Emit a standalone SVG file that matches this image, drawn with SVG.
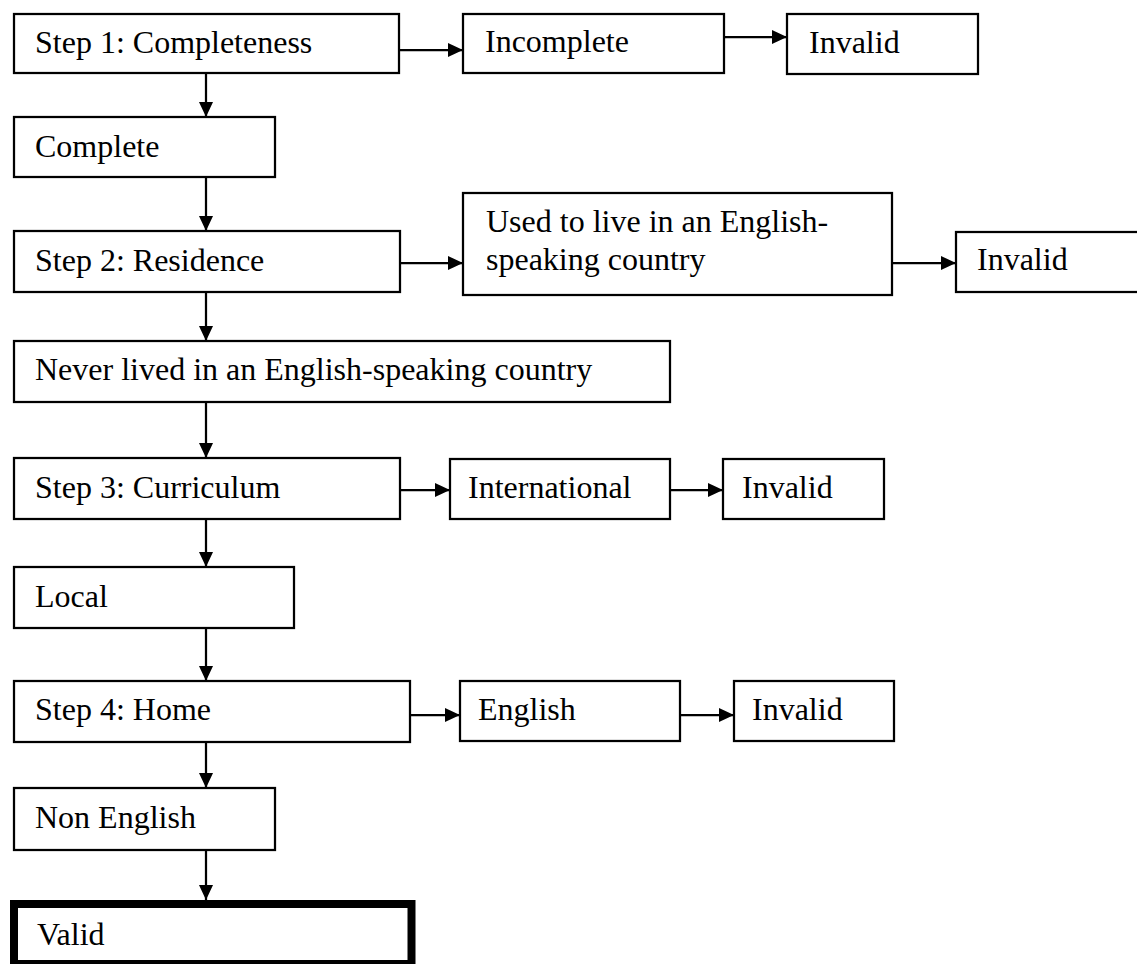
<svg xmlns="http://www.w3.org/2000/svg" width="1137" height="964" viewBox="0 0 1137 964">
  <style>
    .box { fill: #ffffff; stroke: #000000; stroke-width: 2.25; }
    .final { fill: #ffffff; stroke: #000000; stroke-width: 8; }
    .lbl { font-family: "Liberation Serif", "Times New Roman", serif; font-size: 32px; fill: #000000; }
    .link { stroke: #000000; stroke-width: 2.25; fill: none; marker-end: url(#head); }
  </style>
  <defs>
    <marker id="head" markerUnits="userSpaceOnUse" markerWidth="15" markerHeight="14" refX="15" refY="7" orient="auto">
      <path d="M0,0 L15,7 L0,14 z" fill="#000000"/>
    </marker>
  </defs>
  <rect width="1137" height="964" fill="#ffffff"/>

  <!-- connectors -->
  <g id="connectors">
    <!-- main vertical spine -->
    <line class="link" x1="206" y1="73" x2="206" y2="117"/>
    <line class="link" x1="206" y1="177" x2="206" y2="231"/>
    <line class="link" x1="206" y1="292" x2="206" y2="341"/>
    <line class="link" x1="206" y1="402" x2="206" y2="458"/>
    <line class="link" x1="206" y1="519" x2="206" y2="567"/>
    <line class="link" x1="206" y1="628" x2="206" y2="681"/>
    <line class="link" x1="206" y1="742" x2="206" y2="788"/>
    <line class="link" x1="206" y1="850" x2="206" y2="900"/>
    <!-- side branches -->
    <line class="link" x1="399" y1="50" x2="463" y2="50"/>
    <line class="link" x1="724" y1="37" x2="787" y2="37"/>
    <line class="link" x1="400" y1="263" x2="463" y2="263"/>
    <line class="link" x1="892" y1="263" x2="956" y2="263"/>
    <line class="link" x1="400" y1="490" x2="450" y2="490"/>
    <line class="link" x1="670" y1="490" x2="723" y2="490"/>
    <line class="link" x1="410" y1="715" x2="460" y2="715"/>
    <line class="link" x1="680" y1="715" x2="734" y2="715"/>
  </g>

  <!-- step 1 -->
  <g id="step1">
    <rect class="box" x="14" y="14" width="385" height="59"/>
    <text class="lbl" x="35" y="53">Step 1: Completeness</text>
  </g>
  <g id="incomplete">
    <rect class="box" x="463" y="14" width="261" height="59"/>
    <text class="lbl" x="485" y="52">Incomplete</text>
  </g>
  <g id="invalid1">
    <rect class="box" x="787" y="14" width="191" height="60"/>
    <text class="lbl" x="809" y="53">Invalid</text>
  </g>
  <g id="complete">
    <rect class="box" x="14" y="117" width="261" height="60"/>
    <text class="lbl" x="35" y="157">Complete</text>
  </g>

  <!-- step 2 -->
  <g id="step2">
    <rect class="box" x="14" y="231" width="386" height="61"/>
    <text class="lbl" x="35" y="271">Step 2: Residence</text>
  </g>
  <g id="used-to-live">
    <rect class="box" x="463" y="193" width="429" height="102"/>
    <text class="lbl" x="486" y="232">Used to live in an English-</text>
    <text class="lbl" x="486" y="270">speaking country</text>
  </g>
  <g id="invalid2">
    <rect class="box" x="956" y="232" width="200" height="60"/>
    <text class="lbl" x="977" y="270">Invalid</text>
  </g>
  <g id="never-lived">
    <rect class="box" x="14" y="341" width="656" height="61"/>
    <text class="lbl" x="35" y="380">Never lived in an English-speaking country</text>
  </g>

  <!-- step 3 -->
  <g id="step3">
    <rect class="box" x="14" y="458" width="386" height="61"/>
    <text class="lbl" x="35" y="498">Step 3: Curriculum</text>
  </g>
  <g id="international">
    <rect class="box" x="450" y="459" width="220" height="60"/>
    <text class="lbl" x="468" y="498">International</text>
  </g>
  <g id="invalid3">
    <rect class="box" x="723" y="459" width="161" height="60"/>
    <text class="lbl" x="742" y="498">Invalid</text>
  </g>
  <g id="local">
    <rect class="box" x="14" y="567" width="280" height="61"/>
    <text class="lbl" x="35" y="607">Local</text>
  </g>

  <!-- step 4 -->
  <g id="step4">
    <rect class="box" x="14" y="681" width="396" height="61"/>
    <text class="lbl" x="35" y="720">Step 4: Home</text>
  </g>
  <g id="english">
    <rect class="box" x="460" y="681" width="220" height="60"/>
    <text class="lbl" x="478" y="720">English</text>
  </g>
  <g id="invalid4">
    <rect class="box" x="734" y="681" width="160" height="60"/>
    <text class="lbl" x="752" y="720">Invalid</text>
  </g>
  <g id="non-english">
    <rect class="box" x="14" y="788" width="261" height="62"/>
    <text class="lbl" x="35" y="828">Non English</text>
  </g>

  <!-- outcome -->
  <g id="valid">
    <rect class="final" x="14" y="904" width="397.5" height="60"/>
    <text class="lbl" x="37" y="945">Valid</text>
  </g>
</svg>
